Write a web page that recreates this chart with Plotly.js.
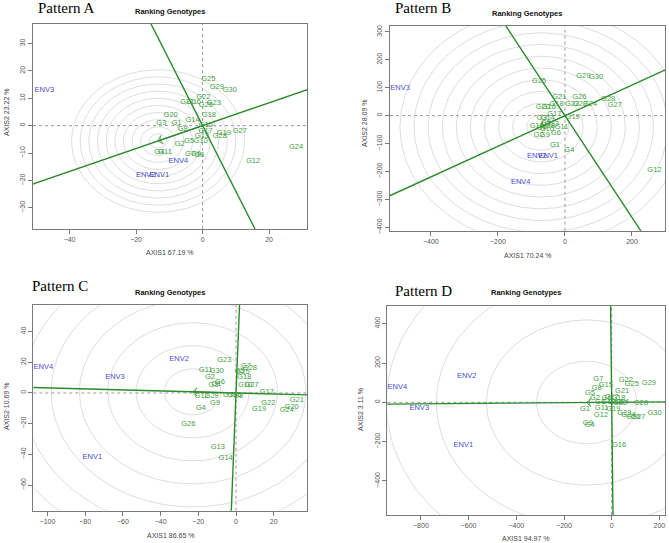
<!DOCTYPE html>
<html>
<head>
<meta charset="utf-8">
<script src="https://cdn.plot.ly/plotly-3.0.1.min.js"></script>
<style>html,body{margin:0;padding:0;background:#fff;}#chart{width:669px;height:543px;}</style>
</head>
<body>
<div id="chart"></div>
<script>
// ---------------- DATA ----------------
const genoLabels = ['G1','G2','G3','G4','G5','G6','G7','G8','G9','G10','G11','G12','G13','G14','G15',
                    'G16','G17','G18','G19','G20','G21','G22','G23','G24','G25','G26','G27','G28','G29','G30'];
const envLabels = ['ENV1','ENV2','ENV3','ENV4'];
const panelNames = ['Pattern A','Pattern B','Pattern C','Pattern D'];
const axis1Titles = ['AXIS1 67.19 %','AXIS1 70.24 %','AXIS1 86.65 %','AXIS1 94.97 %'];
const axis2Titles = ['AXIS2 23.22 %','AXIS2 28.09 %','AXIS2 10.69 %','AXIS2 3.11 %'];

// Pattern A
const genoA_x = [-7.8,-6.9,-12.4,-13.0,-4.0,-1.0,-3.8,-6.0,-2.0,-0.5,-11.3,15.2,-0.2,-3.0,1.0,
                 -2.6,0.9,1.9,6.4,-9.6,-4.6,0.2,3.4,28.1,1.7,1.0,11.2,5.2,4.3,8.2];
const genoA_y = [1.1,-6.8,1.1,-9.5,-5.7,-10.9,-10.5,-1.2,-10.5,-5.7,-9.5,-13.1,-3.8,2.1,0.2,
                 8.5,-2.0,3.8,-2.8,3.8,8.6,10.5,8.3,-7.7,17.0,7.4,-2.1,-3.8,13.9,12.9];
const envA_x = [-13.0,-17.1,-47.6,-7.3];
const envA_y = [-17.9,-17.9,12.8,-13.1];
const idealA = [-13.4,-5.6];
const ringsA = [2.6, 10];   // radius step, count

// Pattern B
const genoB_x = [-30,-78,-69,13,-57,-27,-70,-45,-60,-54,-10,267,-39,-51,-84,
                 -48,-32,-25,23,-66,-17,21,45,75,-77,43,149,129,55,93];
const genoB_y = [-105,-69,-10,-123,-27,-63,-43,-37,-69,-49,-42,-195,-30,-9,-37,
                 30,6,41,-7,30,66,41,41,41,124,68,36,60,140,138];
const envB_x = [-50,-84,-492,-132];
const envB_y = [-144,-144,98,-237];
const idealB = [-72,-39.5];
const ringsB = [42, 10];

// Pattern C
const genoC_x = [-10.5,-13.8,-12.0,-18.6,1.8,-8.5,5.3,1.2,-11.1,4.8,-16.1,-18.2,-9.7,-5.5,-3.2,
                 -0.8,16.3,4.4,12.2,29.5,32.2,17.1,-6.2,26.9,3.5,-25.3,8.3,7.4,-12.9,-10.2];
const genoC_y = [5.8,10.2,5.2,-10.2,14.5,7.0,17.8,-2.0,-6.7,4.8,15.0,-2.0,-35.6,-42.6,-1.3,
                 -1.6,0.8,10.6,-10.6,-9.3,-4.6,-6.7,21.5,-11.1,13.5,-20.2,4.8,16.1,-2.0,14.5];
const envC_x = [-76.2,-30.2,-64.2,-102.2];
const envC_y = [-41.9,22.0,10.0,17.1];
const idealC = [-23,0.75];
const ringsC = [15, 10];

// Pattern D
const genoD_x = [-112,-70,-49,-92,-91,-21,-56,-63,-100,-14,-42,-45,14,42,-25,
                 31,0,28,7,35,44,59,53,70,84,91,111,122,156,180];
const genoD_y = [-36,20,0,-115,46,23,120,71,-108,0,-31,-66,0,0,86,
                 -217,25,20,-36,-3,59,113,-53,-65,92,-73,-76,-5,97,-53];
const envD_x = [-622,-608,-807,-899];
const envD_y = [-217,134,-30,79];
const idealD = [-105,-1];
const ringsD = [210, 6];

// ---------------- STYLE / LAYOUT ----------------
const sans = 'Liberation Sans, Arial, sans-serif';
const serif = 'Liberation Serif, Times New Roman, serif';
const W = 669, H = 543;
const genoColor = '#3f9f3f', envColor = '#4a4ad4', lineColor = '#2a8a2a';

const panels = [
  {gx:genoA_x, gy:genoA_y, ex:envA_x, ey:envA_y, ideal:idealA, rings:ringsA,
   box:[33,307,24,229], xr:[-51,31.4], yr:[-37.7,37.1], xt:[-40,-20,0,20], yt:[-30,-20,-10,0,10,20,30],
   name:[66,8], rank:[169.5,11.5], xtitle:[169,252.5], ytitle:[6,113]},
  {gx:genoB_x, gy:genoB_y, ex:envB_x, ey:envB_y, ideal:idealB, rings:ringsB,
   box:[390,665,26,230.7], xr:[-522,298.5], yr:[-412,321], xt:[-400,-200,0,200], yt:[-400,-300,-200,-100,0,100,200,300],
   name:[422.5,8], rank:[527,13.5], xtitle:[527,255], ytitle:[365,123]},
  {gx:genoC_x, gy:genoC_y, ex:envC_x, ey:envC_y, ideal:idealC, rings:ringsC,
   box:[33.3,307.3,305,510.7], xr:[-107.5,37.8], yr:[-76.7,57.3], xt:[-100,-80,-60,-40,-20,0,20], yt:[-60,-40,-20,0,20,40],
   name:[60,286], rank:[170,292.5], xtitle:[170,535], ytitle:[6,407]},
  {gx:genoD_x, gy:genoD_y, ex:envD_x, ey:envD_y, ideal:idealD, rings:ringsD,
   box:[387.3,665,306,515], xr:[-941,223.5], yr:[-573,490], xt:[-800,-600,-400,-200,0,200], yt:[-400,-200,0,200,400],
   name:[423.5,291], rank:[526,292.5], xtitle:[525,538.5], ytitle:[360,410]}
];

const traces = [];
const layout = {
  width: W, height: H, margin:{l:0,r:0,t:0,b:0}, showlegend:false,
  paper_bgcolor:'#fff', plot_bgcolor:'#fff', annotations:[]
};

panels.forEach((p, i) => {
  const n = i === 0 ? '' : String(i+1);
  const xa = 'x' + n, ya = 'y' + n;
  const common = {
    showgrid:false, zeroline:false, showline:true, mirror:true, linecolor:'#7a7a7a', linewidth:1,
    ticks:'outside', ticklen:4, tickcolor:'#7a7a7a', tickwidth:1,
    tickfont:{family:sans, size:7, color:'#555'}, fixedrange:true, tickmode:'array'
  };
  layout['xaxis' + n] = Object.assign({}, common, {
    domain:[p.box[0]/W, p.box[1]/W], range:p.xr, tickvals:p.xt, anchor:ya
  });
  layout['yaxis' + n] = Object.assign({}, common, {
    domain:[1 - p.box[3]/H, 1 - p.box[2]/H], range:p.yr, tickvals:p.yt, anchor:xa, tickangle:-90
  });

  // concentric circles around ideal genotype
  const [step, count] = p.rings;
  for (let k = 1; k <= count; k++) {
    const cx = [], cy = [];
    for (let t = 0; t <= 180; t++) {
      const a = t / 180 * 2 * Math.PI;
      cx.push(p.ideal[0] + step * k * Math.cos(a));
      cy.push(p.ideal[1] + step * k * Math.sin(a));
    }
    traces.push({type:'scatter', mode:'lines', x:cx, y:cy, xaxis:xa, yaxis:ya,
      line:{color:'#d4d4d4', width:0.8}, hoverinfo:'skip'});
  }
  // dotted zero lines
  traces.push({type:'scatter', mode:'lines', x:p.xr, y:[0,0], xaxis:xa, yaxis:ya,
    line:{color:'#999', width:1, dash:'dot'}, hoverinfo:'skip'});
  traces.push({type:'scatter', mode:'lines', x:[0,0], y:p.yr, xaxis:xa, yaxis:ya,
    line:{color:'#999', width:1, dash:'dot'}, hoverinfo:'skip'});

  // average environment axis and its perpendicular
  const len = Math.hypot(p.ideal[0], p.ideal[1]);
  const dx = p.ideal[0]/len, dy = p.ideal[1]/len;
  const L = 20 * Math.max(p.xr[1]-p.xr[0], p.yr[1]-p.yr[0]);
  traces.push({type:'scatter', mode:'lines', x:[-L*dx, L*dx], y:[-L*dy, L*dy], xaxis:xa, yaxis:ya,
    line:{color:lineColor, width:1.4}, hoverinfo:'skip'});
  traces.push({type:'scatter', mode:'lines', x:[L*dy, -L*dy], y:[-L*dx, L*dx], xaxis:xa, yaxis:ya,
    line:{color:lineColor, width:1.4}, hoverinfo:'skip'});
  // arrow to the ideal genotype
  traces.push({type:'scatter', mode:'lines+markers', x:[0, p.ideal[0]], y:[0, p.ideal[1]], xaxis:xa, yaxis:ya,
    line:{color:lineColor, width:1}, marker:{symbol:'arrow-wide-open', size:[0,6], angleref:'previous',
    color:lineColor, line:{color:lineColor, width:1}}, hoverinfo:'skip'});

  // genotype labels
  traces.push({type:'scatter', mode:'text', x:p.gx, y:p.gy, text:genoLabels, xaxis:xa, yaxis:ya,
    textposition:'middle center', cliponaxis:false,
    textfont:{family:sans, size:7.5, color:genoColor}, hoverinfo:'skip'});
  // environment labels
  traces.push({type:'scatter', mode:'text', x:p.ex, y:p.ey, text:envLabels, xaxis:xa, yaxis:ya,
    textposition:'middle center', cliponaxis:false,
    textfont:{family:sans, size:7.5, color:envColor}, hoverinfo:'skip'});

  // titles
  layout.annotations.push({xref:'paper', yref:'paper', x:p.name[0]/W, y:1-p.name[1]/H,
    text:panelNames[i], showarrow:false, xanchor:'center', yanchor:'middle',
    font:{family:serif, size:15, color:'#000'}});
  layout.annotations.push({xref:'paper', yref:'paper', x:p.rank[0]/W, y:1-p.rank[1]/H,
    text:'<b>Ranking Genotypes</b>', showarrow:false, xanchor:'center', yanchor:'middle',
    font:{family:sans, size:7.5, color:'#111'}});
  layout.annotations.push({xref:'paper', yref:'paper', x:p.xtitle[0]/W, y:1-p.xtitle[1]/H,
    text:axis1Titles[i], showarrow:false, xanchor:'center', yanchor:'middle',
    font:{family:sans, size:7, color:'#444'}});
  layout.annotations.push({xref:'paper', yref:'paper', x:p.ytitle[0]/W, y:1-p.ytitle[1]/H,
    text:axis2Titles[i], showarrow:false, xanchor:'center', yanchor:'middle', textangle:-90,
    font:{family:sans, size:7, color:'#444'}});
});

Plotly.newPlot('chart', traces, layout, {staticPlot:true, displayModeBar:false});
</script>
</body>
</html>
